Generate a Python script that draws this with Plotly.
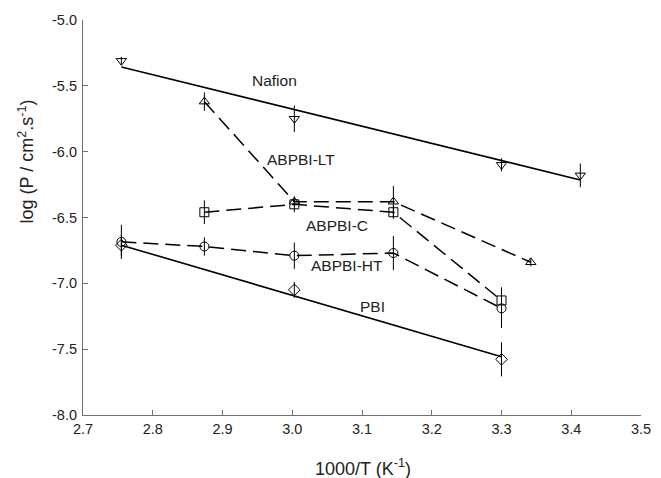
import plotly.graph_objects as go

# ---- data ----
x_nafion = [2.755, 3.003, 3.300, 3.413]
y_nafion = [-5.31, -5.75, -6.10, -6.18]
e_nafion = [0.03, 0.10, 0.05, 0.09]
fit_x_nafion = [2.755, 3.413]
fit_y_nafion = [-5.357, -6.215]

x_lt = [2.874, 3.003, 3.145, 3.342]
y_lt = [-5.62, -6.38, -6.38, -6.84]
e_lt = [0.07, 0.03, 0.12, 0.03]

x_c = [2.874, 3.003, 3.145, 3.300]
y_c = [-6.46, -6.40, -6.46, -7.13]
e_c = [0.09, 0.06, 0.05, 0.10]

x_ht = [2.755, 2.874, 3.003, 3.145, 3.300]
y_ht = [-6.685, -6.72, -6.79, -6.77, -7.19]
e_ht = [0.13, 0.07, 0.10, 0.13, 0.15]

x_pbi = [2.755, 3.003, 3.300]
y_pbi = [-6.71, -7.05, -7.577]
e_pbi = [0.08, 0.06, 0.13]
fit_x_pbi = [2.755, 3.300]
fit_y_pbi = [-6.71, -7.557]

x_ticks = [2.7, 2.8, 2.9, 3.0, 3.1, 3.2, 3.3, 3.4, 3.5]
x_tick_text = ["2.7", "2.8", "2.9", "3.0", "3.1", "3.2", "3.3", "3.4", "3.5"]
y_ticks = [-8.0, -7.5, -7.0, -6.5, -6.0, -5.5, -5.0]
y_tick_text = ["-8.0", "-7.5", "-7.0", "-6.5", "-6.0", "-5.5", "-5.0"]

series_labels = ["Nafion", "ABPBI-LT", "ABPBI-C", "ABPBI-HT", "PBI"]

FONT = "Liberation Sans, Arial, sans-serif"
DASH = "15px,7px"

fig = go.Figure()

def fit_line(x, y):
    fig.add_trace(go.Scatter(x=x, y=y, mode="lines",
                             line=dict(color="black", width=1.6),
                             hoverinfo="skip"))

def series(x, y, err, symbol, dashed):
    fig.add_trace(go.Scatter(
        x=x, y=y,
        mode="lines+markers" if dashed else "markers",
        line=dict(color="black", width=1.5, dash=DASH),
        marker=dict(symbol=symbol, size=9, color="black",
                    line=dict(color="black", width=1)),
        error_y=dict(type="data", array=err, visible=True,
                     color="black", thickness=1, width=0),
    ))

fit_line(fit_x_nafion, fit_y_nafion)
fit_line(fit_x_pbi, fit_y_pbi)
series(x_nafion, y_nafion, e_nafion, "triangle-down-open", False)
series(x_lt, y_lt, e_lt, "triangle-up-open", True)
series(x_c, y_c, e_c, "square-open", True)
series(x_ht, y_ht, e_ht, "circle-open", True)
series(x_pbi, y_pbi, e_pbi, "diamond-open", False)

axis_common = dict(showgrid=False, zeroline=False, showline=True,
                   linecolor="#707070", linewidth=1.2, mirror=False,
                   ticks="inside", ticklen=5, tickcolor="#707070",
                   tickwidth=1.2, ticklabeloverflow="allow",
                   tickfont=dict(family=FONT, size=14.5, color="#222"))

fig.update_layout(
    width=661, height=478,
    margin=dict(l=83, r=10, t=20, b=63),
    plot_bgcolor="white", paper_bgcolor="white",
    showlegend=False,
    font=dict(family=FONT, color="#222"),
    xaxis=dict(range=[2.7, 3.5], tickvals=x_ticks, ticktext=x_tick_text,
               **axis_common),
    yaxis=dict(range=[-8.0, -5.0], tickvals=y_ticks, ticktext=y_tick_text,
               ticklabelstandoff=2, **axis_common),
)

label_pos = [(2.975, -5.463), (3.013, -6.057), (3.064, -6.563),
             (3.079, -6.861), (3.115, -7.178)]
for txt, (lx, ly) in zip(series_labels, label_pos):
    fig.add_annotation(x=lx, y=ly, xref="x", yref="y", text=txt,
                       showarrow=False, xanchor="center", yanchor="middle",
                       font=dict(family=FONT, size=15.5, color="#222"))

fig.add_annotation(x=0.501, y=-0.134, xref="paper", yref="paper",
                   text="1000/T (K<sup>-1</sup>)", showarrow=False,
                   xanchor="center", yanchor="middle",
                   font=dict(family=FONT, size=18, color="#222"))
fig.add_annotation(x=-0.102, y=0.642, xref="paper", yref="paper",
                   text="log (P / cm<sup>2</sup>.s<sup>-1</sup>)",
                   showarrow=False, textangle=-90,
                   xanchor="center", yanchor="middle",
                   font=dict(family=FONT, size=18, color="#222"))

fig.write_html("out.html",
               config={"displayModeBar": False},
               post_script="document.body.style.margin='0';"
                           "document.body.style.padding='0';")
